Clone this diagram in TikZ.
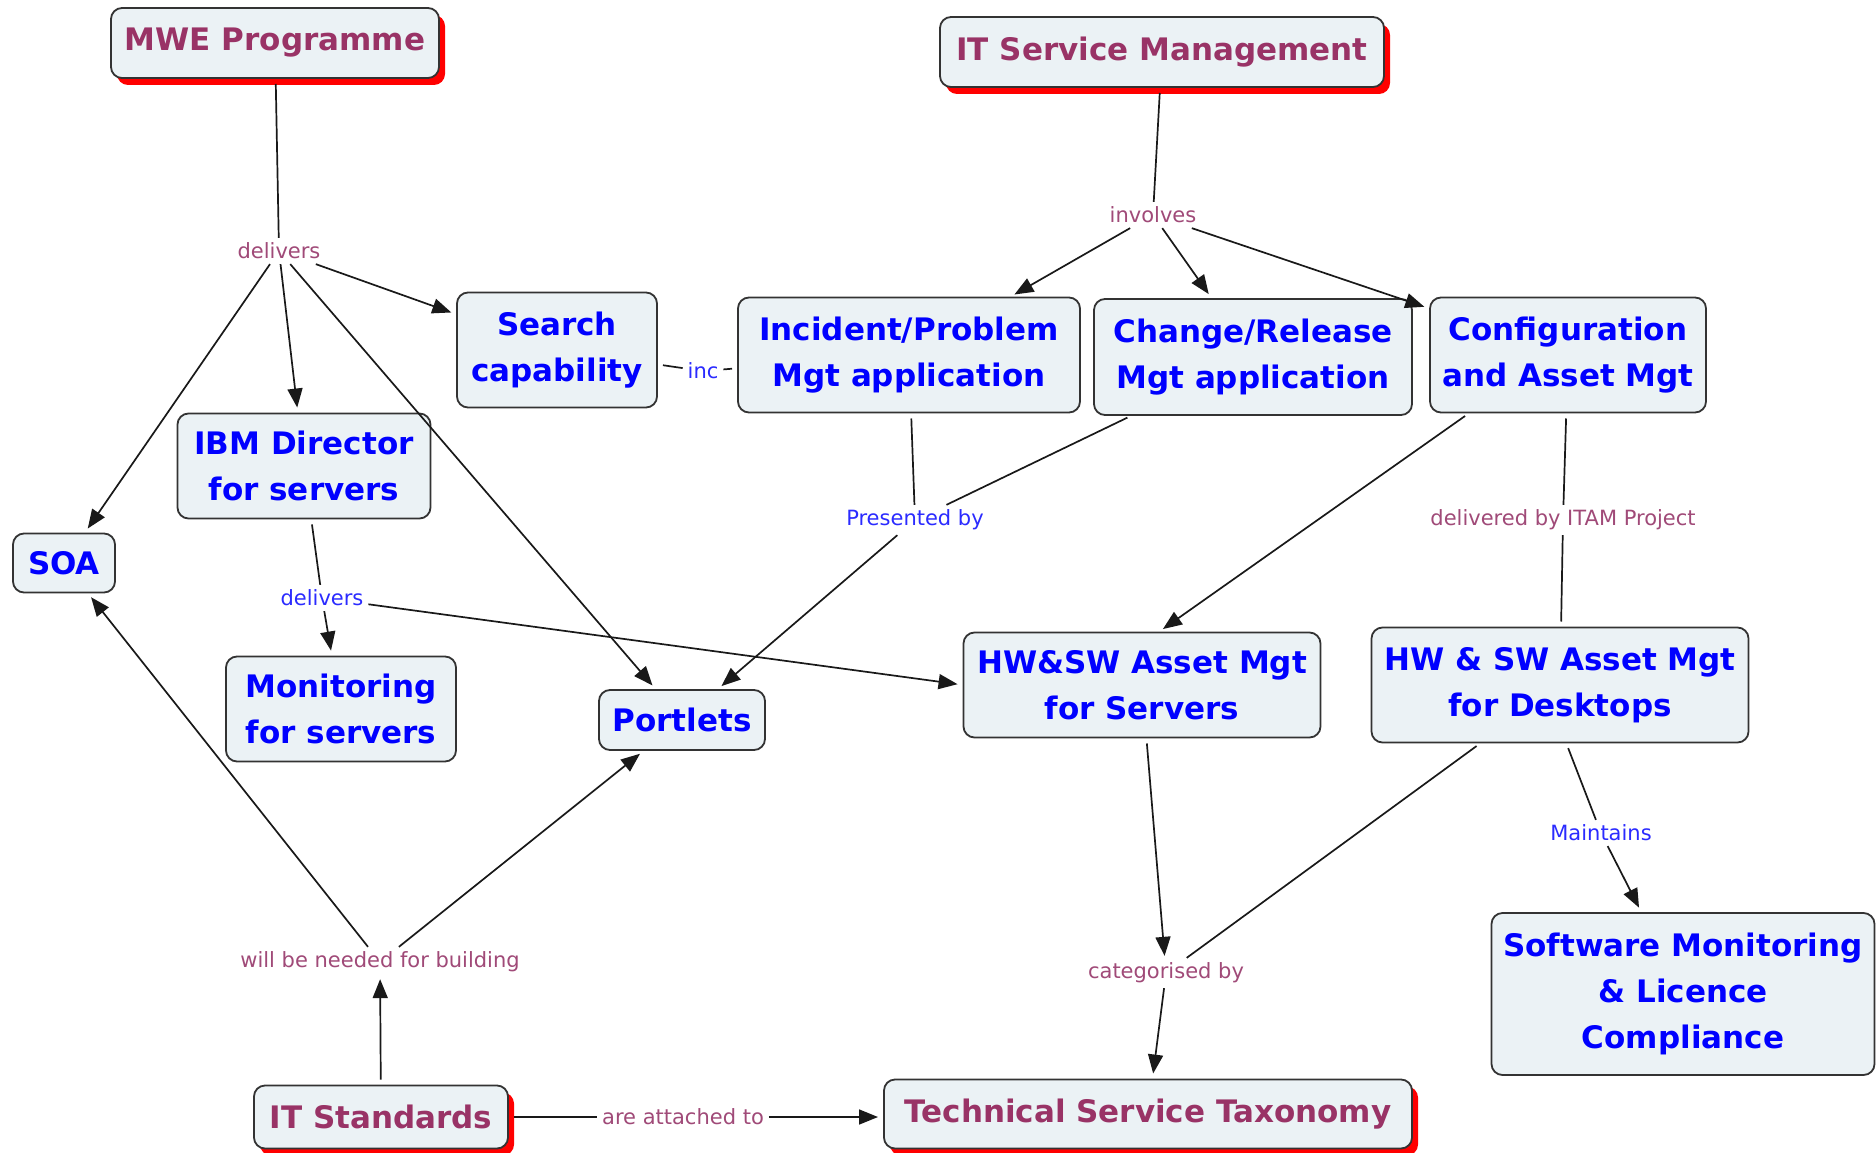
\documentclass[tikz,border=0pt]{standalone}
\usepackage{fontspec}
\setmainfont{DejaVu Sans}
\usetikzlibrary{arrows.meta,shadows,calc}

\definecolor{titlepink}{HTML}{993366}
\definecolor{labelpink}{HTML}{A04A78}
\definecolor{conceptblue}{HTML}{0000FF}
\definecolor{labelblue}{HTML}{2B2BFF}
\definecolor{boxfill}{HTML}{EBF2F5}
\definecolor{boxline}{HTML}{333333}

\tikzset{
  concept/.style={draw=boxline, line width=1.8pt, fill=boxfill, rounded corners=11pt,
    align=center, inner sep=0pt, outer sep=0pt,
    font=\bfseries\fontsize{31}{46}\selectfont, text=conceptblue},
  topic/.style={concept, text=titlepink,
    drop shadow={shadow xshift=6pt, shadow yshift=-7pt, fill=red, opacity=1}},
  linkp/.style={font=\fontsize{21}{25}\selectfont, text=labelpink, inner sep=5pt, outer sep=0pt},
  linkb/.style={linkp, text=labelblue},
  conn/.style={line width=1.7pt, draw=black!90},
  arr/.style={conn, -{Triangle[length=19pt,width=15pt]}, shorten >=6pt},
  frombox/.style={shorten <=6pt},
}

\begin{document}
\begin{tikzpicture}[x=1pt,y=-1pt]
\useasboundingbox (0,0) rectangle (1876,1153);
\fill[white] (0,0) rectangle (1876,1153);

% concepts
\node[topic, minimum width=328pt, minimum height=70pt] (mwe) at (275,43) {MWE Programme};
\node[topic, minimum width=444pt, minimum height=70pt] (itsm) at (1162,52) {IT Service Management};
\node[concept, minimum width=200pt, minimum height=115pt] (search) at (557,350) {Search\\capability};
\node[concept, minimum width=342pt, minimum height=115pt] (incident) at (909,355) {Incident/Problem\\Mgt application};
\node[concept, minimum width=318pt, minimum height=116pt] (change) at (1253,357) {Change/Release\\Mgt application};
\node[concept, minimum width=276pt, minimum height=115pt] (config) at (1568,355) {Configuration\\and Asset Mgt};
\node[concept, minimum width=253pt, minimum height=105pt] (ibm) at (304,466) {IBM Director\\for servers};
\node[concept, minimum width=102pt, minimum height=59pt] (soa) at (64,563) {SOA};
\node[concept, minimum width=230pt, minimum height=105pt] (monit) at (341,709) {Monitoring\\for servers};
\node[concept, minimum width=166pt, minimum height=60pt] (portlets) at (682,720) {Portlets};
\node[concept, minimum width=357pt, minimum height=105pt] (servers) at (1142,685) {HW\&SW Asset Mgt\\for Servers};
\node[concept, minimum width=377pt, minimum height=115pt] (desktops) at (1560,685) {HW \& SW Asset Mgt\\for Desktops};
\node[concept, minimum width=383pt, minimum height=162pt] (swm) at (1683,994) {Software Monitoring\\\& Licence\\Compliance};
\node[topic, minimum width=254pt, minimum height=63pt] (itstd) at (381,1117) {IT Standards};
\node[topic, minimum width=528pt, minimum height=69pt] (tst) at (1148,1114) {Technical Service Taxonomy};

% linking phrases
\node[linkp] (ldel) at (279,251) {delivers};
\node[linkp] (linv) at (1153,215) {involves};
\node[linkb] (linc) at (703,371) {inc};
\node[linkb] (lpres) at (915,520) {Presented by};
\node[linkp] (litam) at (1563,520) {delivered by ITAM Project};
\node[linkb] (lbdel) at (322,598) {delivers};
\node[linkb] (lmaint) at (1601,833) {Maintains};
\node[linkp] (lcat) at (1166,973) {categorised by};
\node[linkp] (lneed) at (380,962) {will be needed for building};
\node[linkp] (latt) at (683,1117) {are attached to};

% MWE Programme delivers
\draw[conn, frombox] (mwe) -- (ldel);
\draw[arr] (ldel) -- (search);
\draw[arr] (ldel) -- (ibm);
\draw[arr] (ldel) -- (soa);
\draw[arr] (ldel) -- (portlets);

% IT Service Management involves
\draw[conn, frombox] (itsm) -- (linv);
\draw[arr] (linv) -- (incident);
\draw[arr] (linv) -- (change);
\draw[arr] (linv) -- (config);

% search included in incident management
\draw[conn, frombox] (search) -- (linc);
\draw[conn, frombox] (incident) -- (linc);

% presented by portlets
\draw[conn, frombox] (incident) -- (lpres);
\draw[conn, frombox] (change) -- (lpres);
\draw[arr] (lpres) -- (portlets);

% configuration and asset management
\draw[arr, frombox] ([xshift=-98pt]config.south) -- ([xshift=16pt]servers.north);
\draw[conn, frombox] (config) -- (litam);
\draw[conn, frombox] (desktops) -- (litam);

% IBM Director delivers
\draw[conn, frombox] (ibm) -- (lbdel);
\draw[arr] (lbdel) -- (monit);
\draw[arr] (lbdel) -- (servers.west);

% categorised by the taxonomy
\draw[arr, frombox, shorten >=2pt] (servers) -- (lcat);
\draw[conn, frombox] (desktops) -- (lcat);
\draw[arr] (lcat) -- (tst);

% desktops maintain licence compliance
\draw[conn, frombox] ([xshift=6pt]desktops.south) -- (lmaint);
\draw[arr] (lmaint) -- (swm);

% IT standards
\draw[arr, frombox, shorten >=2pt] (itstd) -- (lneed);
\draw[arr] (lneed) -- (soa);
\draw[arr] (lneed) -- (portlets);
\draw[conn, frombox] (itstd) -- (latt);
\draw[arr] (latt) -- (latt -| tst.west);
\end{tikzpicture}
\end{document}
